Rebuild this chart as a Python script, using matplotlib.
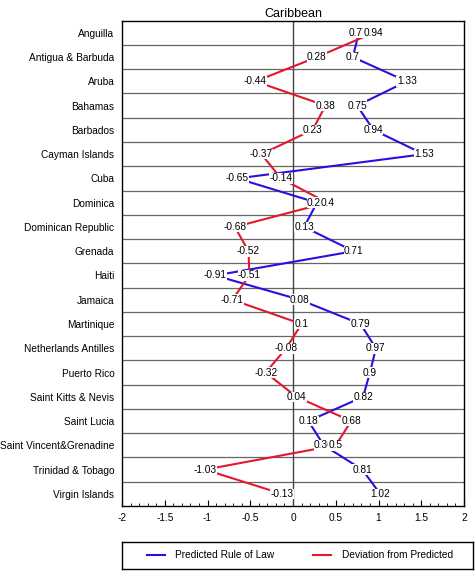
import numpy as np
import matplotlib
matplotlib.use('Agg')
import matplotlib.pyplot as plt
from matplotlib.ticker import MultipleLocator, FuncFormatter

plt.rcParams['font.family'] = ['Liberation Sans', 'DejaVu Sans']

countries = ['Anguilla', 'Antigua & Barbuda', 'Aruba', 'Bahamas', 'Barbados',
             'Cayman Islands', 'Cuba', 'Dominica', 'Dominican Republic', 'Grenada',
             'Haiti', 'Jamaica', 'Martinique', 'Netherlands Antilles', 'Puerto Rico',
             'Saint Kitts & Nevis', 'Saint Lucia', 'Saint Vincent&Grenadine',
             'Trinidad & Tobago', 'Virgin Islands']
predicted = [0.77, 0.7, 1.33, 0.75, 0.94, 1.53, -0.65, 0.28, 0.13, 0.71,
             -0.91, 0.08, 0.79, 0.97, 0.9, 0.82, 0.18, 0.36, 0.81, 1.02]
deviation = [0.94, 0.28, -0.44, 0.38, 0.23, -0.37, -0.14, 0.4, -0.68, -0.52,
             -0.51, -0.71, 0.1, -0.08, -0.32, 0.04, 0.68, 0.5, -1.03, -0.13]

blue = '#2a0fe0'
red = '#e3182d'
fs = 7.3

fig = plt.figure(figsize=(4.75, 5.71), dpi=100)
ax = fig.add_axes([122 / 475, 1 - 506 / 571, 342 / 475, 485.3 / 571])

y = np.arange(len(countries))
l1, = ax.plot(predicted, y, color=blue, lw=1.5, label='Predicted Rule of Law', zorder=3)
l2, = ax.plot(deviation, y, color=red, lw=1.5, label='Deviation from Predicted', zorder=3)

# value labels with white boxes over the lines
for vals in (predicted, deviation):
    for v, yy in zip(vals, y):
        ax.text(v, yy, f'{v:g}', ha='center', va='center', fontsize=fs, zorder=5,
                bbox=dict(facecolor='white', edgecolor='none', pad=0.2))

ax.axvline(0, color='#444444', lw=1, zorder=2)
ax.set_xlim(-2, 2)
ax.set_ylim(len(countries) - 0.5, -0.5)
ax.set_yticks(y)
ax.set_yticklabels(countries, fontsize=fs)
ax.set_yticks(np.arange(len(countries) - 1) + 0.5, minor=True)
ax.grid(axis='y', which='minor', color='#666666', lw=0.9)
ax.tick_params(axis='y', which='both', length=0, pad=5.5)

ax.xaxis.set_major_locator(MultipleLocator(0.5))
ax.xaxis.set_minor_locator(MultipleLocator(0.1))
ax.xaxis.set_major_formatter(FuncFormatter(lambda t, p: f'{t:g}'))
ax.tick_params(axis='x', which='major', direction='in', length=4, labelsize=fs, pad=5)
ax.tick_params(axis='x', which='minor', direction='in', length=2)
for s in ax.spines.values():
    s.set_linewidth(1)

ax.set_title('Caribbean', fontsize=9, pad=3)

# legend box under the plot
lax = fig.add_axes([122 / 475, 1 - 569 / 571, 351 / 475, 27 / 571])
lax.set_xticks([])
lax.set_yticks([])
for s in lax.spines.values():
    s.set_linewidth(1)
lax.legend(handles=[l1, l2], loc='center left', bbox_to_anchor=(25 / 351, 0.5),
           ncol=2, fontsize=fs, frameon=False, handlelength=1.8,
           handletextpad=1.0, columnspacing=3.8, borderaxespad=0, borderpad=0)

fig.savefig('out.png', dpi=100)
